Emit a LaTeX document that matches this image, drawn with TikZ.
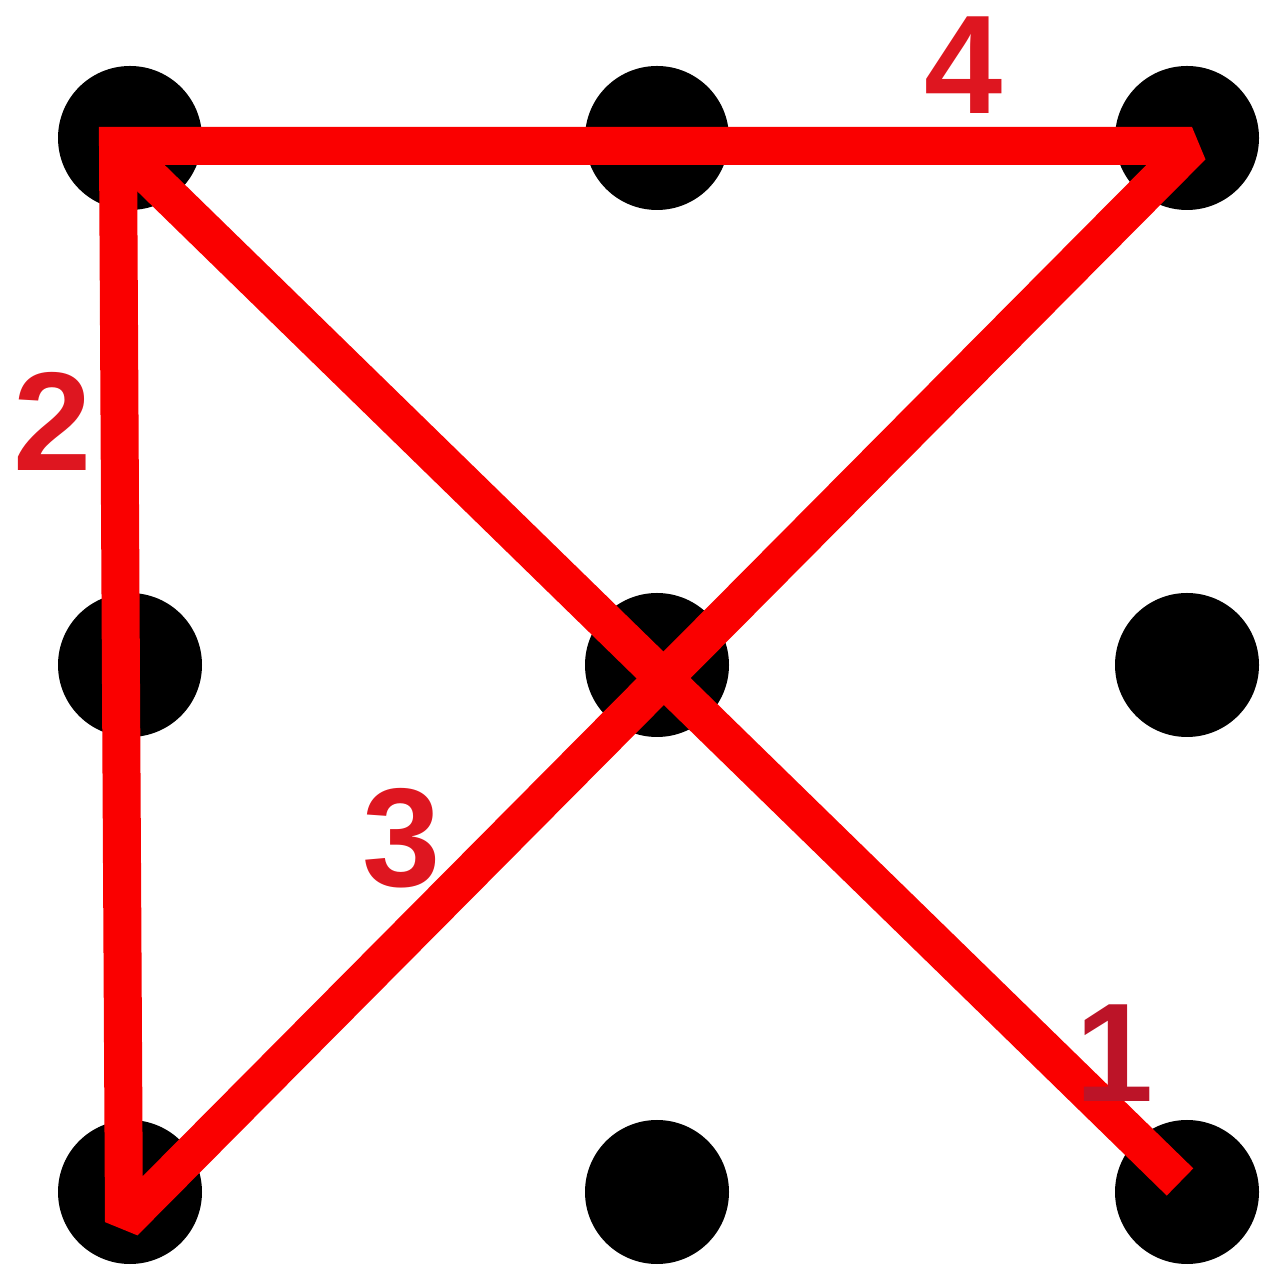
\documentclass[tikz,border=0pt]{standalone}
\usepackage{fontspec}
\setmainfont{Liberation Sans}
\usepackage{tikz}
\usetikzlibrary{positioning}
\definecolor{linered}{RGB}{250,0,0}
\definecolor{numred}{RGB}{222,22,32}
\definecolor{darknum}{RGB}{188,20,40}
\tikzset{dot/.style={circle, fill=black, inner sep=0pt, minimum size=1.44cm},
	stroke/.style={draw=linered, line width=0.38cm},
	num/.style={text=numred, font=\bfseries\fontsize{40}{40}\selectfont, inner sep=0pt}}

\begin{document}
\begin{tikzpicture}
	\useasboundingbox (0,0) rectangle (12.68,12.76);
	%\draw[help lines] (0,0) grid (12,12);
	% the nine dots
	\foreach \i/\x in {1/1.30, 2/6.57, 3/11.87}
	  \foreach \j/\y in {1/11.38, 2/6.11, 3/0.84}
	    \node[dot] (d\j\i) at (\x,\y) {};
	% ends of the four strokes
	\coordinate (start) at (11.80,0.94);
	\coordinate (tl) at (1.18,11.30);
	\coordinate (bl) at (1.24,0.54);
	\coordinate (tr) at (11.92,11.30);
	\draw[stroke, line cap=butt] (start) -- (tl);
	\draw[stroke, line join=miter, miter limit=2] (tl) -- (bl) -- (tr) -- cycle;
	% numbers
	\node[num, text=darknum] (n1) at (11.15,2.23) {1};
	\node[num] (n2) at (0.53,8.55) {2};
	\node[num] (n3) at (4.02,4.38) {3};
	\node[num] (n4) at (9.64,12.11) {4};
\end{tikzpicture}
\end{document}
